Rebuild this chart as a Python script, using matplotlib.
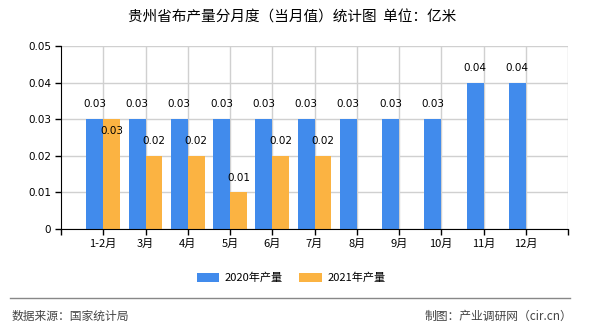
import matplotlib
matplotlib.use("Agg")
import matplotlib.pyplot as plt
import numpy as np

plt.rcParams['font.family'] = ['Noto Sans CJK SC', 'DejaVu Sans']

months = ['1-2月', '3月', '4月', '5月', '6月', '7月', '8月', '9月', '10月', '11月', '12月']
output_2020 = [0.03, 0.03, 0.03, 0.03, 0.03, 0.03, 0.03, 0.03, 0.03, 0.04, 0.04]
output_2021 = [0.03, 0.02, 0.02, 0.01, 0.02, 0.02]
yticks = [0, 0.01, 0.02, 0.03, 0.04, 0.05]

blue = '#418bec'
orange = '#fbb342'

fig = plt.figure(figsize=(5.9, 3.3), dpi=100)
ax = fig.add_axes([61 / 590, 1 - 229 / 330, (568 - 61) / 590, (229 - 46) / 330])

x = np.arange(len(months))
w = 0.4
x21 = x[:len(output_2021)]
ax.bar(x - w / 2, output_2020, width=w, color=blue, label='2020年产量', zorder=3)
ax.bar(x21 + w / 2, output_2021, width=w, color=orange, label='2021年产量', zorder=3)

for xi, v in zip(x, output_2020):
    ax.annotate(f'{v:.2f}', (xi - w / 2, v), xytext=(0, 7), textcoords='offset points',
                ha='center', va='bottom', fontsize=7.5, family='DejaVu Sans')
for xi, v, v0 in zip(x21, output_2021, output_2020):
    off = -12 if v == v0 else 7
    ax.annotate(f'{v:.2f}', (xi + w / 2, v), xytext=(0, off), textcoords='offset points',
                ha='center', va='bottom', fontsize=7.5, family='DejaVu Sans')

ax.set_xlim(-1, len(months))
ax.set_ylim(0, 0.05)
ax.set_yticks(yticks)
ax.set_yticklabels(['0' if t == 0 else f'{t:.2f}' for t in yticks], fontsize=7.5, family='DejaVu Sans')
ax.set_xticks(np.arange(-1, len(months) + 1))
ax.set_xticklabels([''] + months + [''], fontsize=8)
ax.tick_params(axis='both', length=4, width=1, color='black', pad=3)

ax.grid(True, axis='y', color='#d0d0d0', linewidth=1, zorder=0)
for xi in np.arange(0, len(months) + 1):
    ax.axvline(xi, color='#d0d0d0', linewidth=1, zorder=0)

for s in ['top', 'right']:
    ax.spines[s].set_visible(False)
ax.spines['left'].set_color('black')
ax.spines['bottom'].set_color('black')
ax.spines['bottom'].set_zorder(4)

fig.text(292 / 590, 1 - 18 / 330, '贵州省布产量分月度（当月值）统计图  单位：亿米',
         ha='center', va='center', fontsize=10.5)

leg = fig.legend(loc='center', bbox_to_anchor=(291 / 590, 1 - 278 / 330), ncol=2,
                 frameon=False, fontsize=8, handlelength=2.0, handleheight=0.8,
                 columnspacing=1.5, handletextpad=0.5)

fig.add_artist(plt.Line2D([10 / 590, 570 / 590], [1 - 298 / 330, 1 - 298 / 330],
                          color='#888888', linewidth=1))
fig.text(12 / 590, 1 - 316 / 330, '数据来源：国家统计局', ha='left', va='center',
         fontsize=8.5, color='#444444')
fig.text(572 / 590, 1 - 316 / 330, '制图：产业调研网（cir.cn）', ha='right', va='center',
         fontsize=8.5, color='#444444')

fig.savefig('out.png', dpi=100)
